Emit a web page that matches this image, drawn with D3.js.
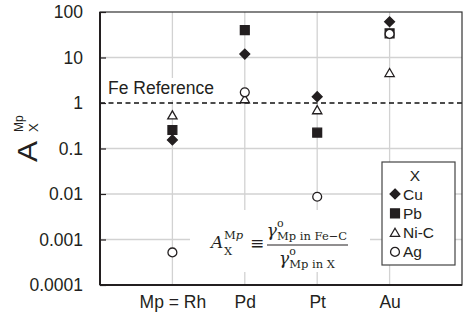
<!DOCTYPE html>
<html>
<head>
<meta charset="utf-8">
<script src="https://cdn.jsdelivr.net/npm/d3@7"></script>
<style>
  html, body { margin: 0; padding: 0; background: #fff; }
  svg { display: block; font-family: "Liberation Sans", Arial, sans-serif; }
</style>
</head>
<body>
<div id="chart"></div>
<script>
// ── Data ──────────────────────────────────────────────────────────────────────
const categories = ['Mp = Rh', 'Pd', 'Pt', 'Au'];
const cuVals  = [0.154, 11.9, 1.38, 61];
const pbVals  = [0.255, 40, 0.223, 34];
const niCVals = [0.54, 1.22, 0.70, 4.6];
const agVals  = [0.00052, 1.72, 0.0087, 33];
const yTicks  = [0.0001, 0.001, 0.01, 0.1, 1, 10, 100];
const yTickLabels = ['0.0001', '0.001', '0.01', '0.1', '1', '10', '100'];
const seriesNames = ['Cu', 'Pb', 'Ni-C', 'Ag'];

const W = 466, H = 322;
const M = { top: 12, right: 4, bottom: 37, left: 100 };
const iw = W - M.left - M.right;
const ih = H - M.top - M.bottom;
const INK = '#231f20';
const GRID = '#d2d2d2';

const svg = d3.select('#chart').append('svg').attr('width', W).attr('height', H);
const g = svg.append('g').attr('transform', `translate(${M.left},${M.top})`);

const x = d3.scaleLinear().domain([0, categories.length + 1]).range([0, iw]);
const y = d3.scaleLog().domain([0.0001, 100]).range([ih, 0]);

// ── Grid ──────────────────────────────────────────────────────────────────────
g.append('g').selectAll('line').data(yTicks.filter(v => v !== 1 && v !== 100 && v !== 0.0001))
  .join('line')
  .attr('x1', 0).attr('x2', iw)
  .attr('y1', d => y(d)).attr('y2', d => y(d))
  .attr('stroke', GRID).attr('stroke-width', 1.3);

g.append('g').selectAll('line').data(categories)
  .join('line')
  .attr('x1', (d, i) => x(i + 1)).attr('x2', (d, i) => x(i + 1))
  .attr('y1', 0).attr('y2', ih)
  .attr('stroke', GRID).attr('stroke-width', 1.3);

// ── Fe reference ──────────────────────────────────────────────────────────────
g.append('line')
  .attr('x1', 0).attr('x2', iw)
  .attr('y1', y(1)).attr('y2', y(1))
  .attr('stroke', '#111').attr('stroke-width', 1.5).attr('stroke-dasharray', '5,3.5');

g.append('rect').attr('x', 4).attr('y', y(1) - 25).attr('width', 116).attr('height', 22).attr('fill', '#fff');
g.append('text')
  .attr('x', 8).attr('y', y(1) - 9)
  .attr('font-size', 17.5).attr('fill', INK)
  .text('Fe Reference');

// ── Formula box ───────────────────────────────────────────────────────────────
const fx = 190 - M.left, fy = 210 - M.top;
g.append('rect').attr('x', fx).attr('y', fy).attr('width', 180).attr('height', 62).attr('fill', '#fff');

const formula = svg.append('g').attr('font-family', '"DejaVu Serif", "Liberation Serif", serif').attr('fill', INK);
formula.append('text').attr('x', 211).attr('y', 248).attr('font-size', 17).attr('font-style', 'italic').text('A');
const sup = formula.append('text').attr('x', 224).attr('y', 239).attr('font-size', 11.5);
sup.append('tspan').text('M');
sup.append('tspan').attr('font-style', 'italic').text('p');
formula.append('text').attr('x', 224).attr('y', 255).attr('font-size', 11.5).text('X');
formula.append('text').attr('x', 250).attr('y', 249).attr('font-size', 17).text('≡');

function gammaTerm(cx, base, sub) {
  const grp = formula.append('g');
  const gam = grp.append('text').attr('y', base).attr('font-size', 17).attr('font-style', 'italic').text('γ');
  const o   = grp.append('text').attr('y', base - 9).attr('font-size', 11).text('o');
  const s   = grp.append('text').attr('y', base + 4).attr('font-size', 11.5).text(sub);
  const gw = gam.node().getComputedTextLength();
  const sw = Math.max(o.node().getComputedTextLength(), s.node().getComputedTextLength());
  const x0 = cx - (gw + sw) / 2;
  gam.attr('x', x0);
  o.attr('x', x0 + gw);
  s.attr('x', x0 + gw);
}
gammaTerm(307, 236, 'Mp in Fe−C');
formula.append('line').attr('x1', 267).attr('x2', 348).attr('y1', 245).attr('y2', 245)
  .attr('stroke', INK).attr('stroke-width', 1);
gammaTerm(307, 264, 'Mp in X');

// ── Markers ───────────────────────────────────────────────────────────────────
const symbols = {
  'Cu':   { type: d3.symbolDiamond2,  size: 62,  fill: INK,    stroke: INK },
  'Pb':   { type: d3.symbolSquare2,   size: 100, fill: INK,    stroke: INK },
  'Ni-C': { type: d3.symbolTriangle2, size: 62,  fill: '#fff', stroke: INK },
  'Ag':   { type: d3.symbolCircle,    size: 62,  fill: '#fff', stroke: INK }
};
const seriesVals = [cuVals, pbVals, niCVals, agVals];

function drawSymbol(parent, name, cx, cy) {
  const s = symbols[name];
  const dy = name === 'Ni-C' ? 1 : 0;
  parent.append('path')
    .attr('d', d3.symbol().type(s.type).size(s.size)())
    .attr('transform', `translate(${cx},${cy + dy})`)
    .attr('fill', s.fill).attr('stroke', s.stroke).attr('stroke-width', 1.3);
}

// order: triangles, squares, diamonds, then circles on top
[2, 1, 0, 3].forEach(si => {
  seriesVals[si].forEach((v, i) => drawSymbol(g, seriesNames[si], x(i + 1), y(v)));
});

// ── Legend ────────────────────────────────────────────────────────────────────
const lg = svg.append('g').attr('transform', 'translate(382,162)');
lg.append('rect').attr('width', 73).attr('height', 103)
  .attr('fill', '#fff').attr('stroke', '#444').attr('stroke-width', 1.2);
lg.append('text').attr('x', 33).attr('y', 19).attr('text-anchor', 'middle')
  .attr('font-size', 15.5).attr('fill', INK).text('X');
seriesNames.forEach((n, i) => {
  const yy = 32 + i * 19.3;
  drawSymbol(lg, n, 13, yy);
  lg.append('text').attr('x', 21).attr('y', yy + 5.5)
    .attr('font-size', 15.5).attr('fill', INK).text(n);
});

// ── Axes ──────────────────────────────────────────────────────────────────────
g.append('rect').attr('width', iw).attr('height', ih)
  .attr('fill', 'none').attr('stroke', '#333').attr('stroke-width', 1.2);
g.append('line').attr('x1', 0).attr('x2', 0).attr('y1', 0).attr('y2', ih)
  .attr('stroke', INK).attr('stroke-width', 2);
g.append('line').attr('x1', 0).attr('x2', iw).attr('y1', ih).attr('y2', ih)
  .attr('stroke', INK).attr('stroke-width', 2);

g.append('g')
  .call(d3.axisLeft(y).tickValues(yTicks).tickSize(-6).tickPadding(17)
    .tickFormat((d, i) => yTickLabels[i]))
  .call(a => a.select('.domain').remove())
  .call(a => a.selectAll('line').attr('stroke', INK).attr('stroke-width', 1.2))
  .call(a => a.selectAll('text').attr('fill', INK).attr('font-size', 17.5)
    .attr('font-family', '"Liberation Sans", Arial, sans-serif'));

g.append('g').attr('transform', `translate(0,${ih})`)
  .call(d3.axisBottom(x).tickValues(categories.map((d, i) => i + 1)).tickSize(0).tickPadding(11)
    .tickFormat((d, i) => categories[i]))
  .call(a => a.select('.domain').remove())
  .call(a => a.selectAll('text').attr('fill', INK).attr('font-size', 17.5)
    .attr('font-family', '"Liberation Sans", Arial, sans-serif'));

// ── Y title ───────────────────────────────────────────────────────────────────
const yt = svg.append('g').attr('transform', 'translate(37,162) rotate(-90)').attr('fill', INK);
yt.append('text').attr('x', 0).attr('y', 0).attr('font-size', 27)
  .attr('textLength', 21).attr('lengthAdjust', 'spacingAndGlyphs').text('A');
yt.append('text').attr('x', 30).attr('y', -14).attr('font-size', 12).text('Mp');
yt.append('text').attr('x', 30).attr('y', 1).attr('font-size', 13).text('X');
</script>
</body>
</html>
